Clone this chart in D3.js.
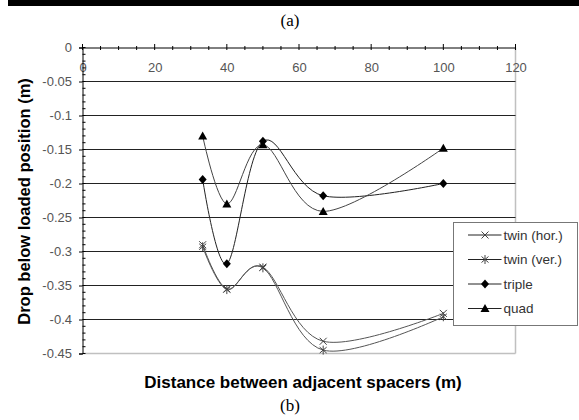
<!DOCTYPE html>
<html><head><meta charset="utf-8">
<script src="https://cdn.jsdelivr.net/npm/d3@7"></script>
<style>
html,body{margin:0;padding:0;background:#fff;}
svg{display:block;}
text{font-family:"Liberation Sans",Arial,sans-serif;}
</style></head>
<body>
<svg id="chart" width="579" height="420"></svg>
<script>
// ---- data ----
const spacing = [33.3, 40, 50, 66.7, 100];
const twinHor = [-0.290, -0.355, -0.323, -0.432, -0.391];
const twinVer = [-0.293, -0.356, -0.324, -0.445, -0.396];
const triple  = [-0.194, -0.318, -0.138, -0.218, -0.200];
const quad    = [-0.130, -0.230, -0.143, -0.241, -0.148];
const seriesNames = ["twin (hor.)", "twin (ver.)", "triple", "quad"];
const xTickValues = [0, 20, 40, 60, 80, 100, 120];
const xTickLabels = ["0", "20", "40", "60", "80", "100", "120"];
const yTickValues = [0, -0.05, -0.1, -0.15, -0.2, -0.25, -0.3, -0.35, -0.4, -0.45];
const yTickLabels = ["0", "-0.05", "-0.1", "-0.15", "-0.2", "-0.25", "-0.3", "-0.35", "-0.4", "-0.45"];
const xTitle = "Distance between adjacent spacers (m)";
const yTitle = "Drop below loaded position (m)";

const svg = d3.select("#chart");
const x = d3.scaleLinear().domain([0, 120]).range([82.5, 515.5]);
const y = d3.scaleLinear().domain([0, -0.45]).range([47.5, 353.5]);

// top black bar and (a)
svg.append("rect").attr("x", 8).attr("y", 0).attr("width", 571).attr("height", 6).attr("fill", "#000");
svg.append("text").attr("x", 290).attr("y", 26).attr("text-anchor", "middle")
  .style("font-family", "'Liberation Serif','Times New Roman',serif").style("font-size", "17px").text("(a)");
svg.append("text").attr("x", 290).attr("y", 411).attr("text-anchor", "middle")
  .style("font-family", "'Liberation Serif','Times New Roman',serif").style("font-size", "17px").text("(b)");

// plot border (light gray right & bottom)
svg.append("line").attr("x1", x(120)).attr("x2", x(120)).attr("y1", y(0)).attr("y2", y(-0.45))
  .attr("stroke", "#c0c0c0").attr("stroke-width", 1.5);

// grid lines
svg.append("g").selectAll("line").data(yTickValues.filter(v => v !== 0))
  .join("line")
  .attr("x1", x(0)).attr("x2", x(120))
  .attr("y1", d => y(d)).attr("y2", d => y(d))
  .attr("stroke", d => d === -0.45 ? "#c0c0c0" : "#222")
  .attr("stroke-width", d => d === -0.45 ? 1.5 : 1);

// x axis at y=0 (labels below, inside plot)
const xAxisG = svg.append("g").attr("transform", `translate(0,${y(0)})`)
  .call(d3.axisBottom(x).tickValues(xTickValues).tickSize(0).tickPadding(15.5)
    .tickFormat((d, i) => xTickLabels[i]));
xAxisG.select(".domain").attr("stroke", "#000");
xAxisG.selectAll("text").attr("fill", "#555").style("font-size", "13px");
// x ticks
svg.append("g").selectAll("line").data(d3.range(0, 121, 5))
  .join("line")
  .attr("x1", d => x(d)).attr("x2", d => x(d))
  .attr("y1", d => d % 20 === 0 ? y(0) - 3.5 : y(0) - 1.5)
  .attr("y2", d => y(0) + 2.5)
  .attr("stroke", "#000");

// y axis
const yAxisG = svg.append("g").attr("transform", `translate(${x(0)},0)`)
  .call(d3.axisLeft(y).tickValues(yTickValues).tickSize(3.5).tickPadding(7)
    .tickFormat((d, i) => yTickLabels[i]));
yAxisG.select(".domain").attr("stroke", "#000");
yAxisG.selectAll(".tick line").attr("stroke", "#000");
yAxisG.selectAll("text").attr("fill", "#555").style("font-size", "13px");
// minor y ticks (inside)
svg.append("g").selectAll("line").data(d3.range(0, 46).map(i => -i / 100))
  .join("line")
  .attr("x1", x(0)).attr("x2", x(0) + 3)
  .attr("y1", d => y(d)).attr("y2", d => y(d))
  .attr("stroke", "#000");

// axis titles
svg.append("text").attr("x", 303).attr("y", 388).attr("text-anchor", "middle")
  .style("font-size", "17px").style("font-weight", "bold").attr("fill", "#000").text(xTitle);
svg.append("text").attr("transform", "translate(29.5,201.5) rotate(-90)").attr("text-anchor", "middle")
  .style("font-size", "16.5px").style("font-weight", "bold").attr("fill", "#000").text(yTitle);

// series
const series = [
  {name: seriesNames[0], values: twinHor, stroke: "#555", marker: "x"},
  {name: seriesNames[1], values: twinVer, stroke: "#555", marker: "star"},
  {name: seriesNames[2], values: triple, stroke: "#222", marker: "diamond"},
  {name: seriesNames[3], values: quad, stroke: "#444", marker: "triangle"}
];
const markerPath = {
  x: "M-3.5,-3.5L3.5,3.5M-3.5,3.5L3.5,-3.5",
  star: "M-3.5,-3L3.5,3M-3.5,3L3.5,-3M0,-4.5L0,4.5",
  diamond: "M0,-4.5L4,0L0,4.5L-4,0Z",
  triangle: "M0,-4.5L4.5,3.5L-4.5,3.5Z"
};
function drawMarker(g, type, cx, cy) {
  const filled = type === "diamond" || type === "triangle";
  g.append("path").attr("d", markerPath[type]).attr("transform", `translate(${cx},${cy})`)
    .attr("fill", filled ? "#000" : "none").attr("stroke", filled ? "none" : "#444").attr("stroke-width", 1);
}
const line = d3.line().x(d => x(d[0])).y(d => y(d[1])).curve(d3.curveCardinal.tension(0));
const sg = svg.append("g");
series.forEach(s => {
  const pts = spacing.map((v, i) => [v, s.values[i]]);
  sg.append("path").attr("d", line(pts)).attr("fill", "none").attr("stroke", s.stroke).attr("stroke-width", 1);
});
series.forEach(s => {
  spacing.forEach((v, i) => drawMarker(sg, s.marker, x(v), y(s.values[i])));
});

// legend
const lg = svg.append("g");
lg.append("rect").attr("x", 453.5).attr("y", 222.5).attr("width", 124).attr("height", 103)
  .attr("fill", "#fff").attr("stroke", "#777").attr("stroke-width", 1);
const legendY = [235, 259.5, 284, 308.5];
series.forEach((s, i) => {
  const ly = legendY[i];
  lg.append("line").attr("x1", 468).attr("x2", 501.5).attr("y1", ly).attr("y2", ly)
    .attr("stroke", "#222").attr("stroke-width", 1);
  drawMarker(lg, s.marker, 485, ly);
  lg.append("text").attr("x", 503.5).attr("y", ly + 4.5).attr("fill", "#333")
    .style("font-size", "13.5px").text(s.name);
});
</script>
</body></html>
